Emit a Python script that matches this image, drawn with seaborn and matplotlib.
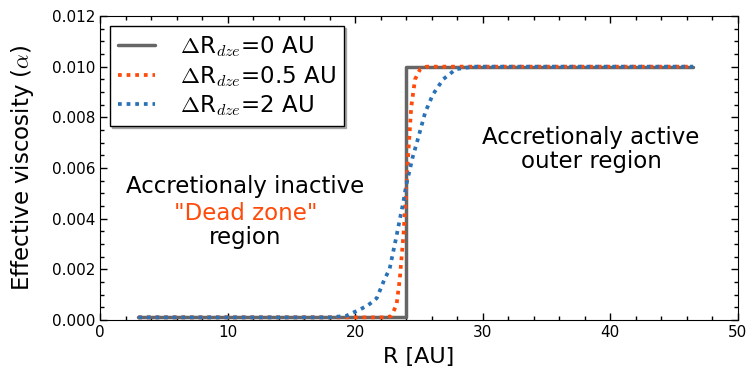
import numpy as np
import pandas as pd
import seaborn as sns
import matplotlib.pyplot as plt
from matplotlib.ticker import MultipleLocator

# values
r_step = [3.0, 24.0, 24.0, 46.5]
a_step = [0.0001, 0.0001, 0.0100, 0.0100]

r_half = [3.0, 22.5, 22.85, 23.25, 23.5, 23.8, 24.0, 24.15, 24.4, 24.7, 25.1, 25.6, 46.5]
a_half = [0.0001, 0.0001, 0.00016, 0.0006, 0.0016, 0.0034, 0.0051, 0.0064, 0.0084,
          0.0095, 0.0099, 0.0100, 0.0100]

r_two = [3.0, 18.0, 19.3, 20.2, 21.0, 21.7, 22.3, 22.7, 23.2, 23.8, 24.0, 24.5, 24.9,
         25.5, 26.1, 26.9, 27.9, 29.3, 46.5]
a_two = [0.0001, 0.0001, 0.00016, 0.00037, 0.00057, 0.00086, 0.0016, 0.0020, 0.0032,
         0.0047, 0.0053, 0.0064, 0.0071, 0.0082, 0.0089, 0.0095, 0.0099, 0.0100, 0.0100]

labels = [r"$\Delta$R$_{dze}$=0 AU", r"$\Delta$R$_{dze}$=0.5 AU", r"$\Delta$R$_{dze}$=2 AU"]
colors = ["#666666", "#ff4a0a", "#2a72b8"]

sns.set_style("ticks")
plt.rcParams["font.family"] = ["DejaVu Sans"]
plt.rcParams["mathtext.fontset"] = "cm"
plt.rcParams["xtick.direction"] = "in"
plt.rcParams["ytick.direction"] = "in"
plt.rcParams["text.color"] = "black"
plt.rcParams["axes.labelcolor"] = "black"
plt.rcParams["xtick.color"] = "black"
plt.rcParams["ytick.color"] = "black"

fig, ax = plt.subplots(figsize=(7.52, 3.72), dpi=100)

df0 = pd.DataFrame({"R": r_step, "alpha": a_step})
df1 = pd.DataFrame({"R": r_half, "alpha": a_half})
df2 = pd.DataFrame({"R": r_two, "alpha": a_two})

sns.lineplot(data=df0, x="R", y="alpha", color=colors[0], lw=2.5, ax=ax,
             label=labels[0], estimator=None, sort=False)
sns.lineplot(data=df1, x="R", y="alpha", color=colors[1], lw=2.7, ls=(0, (1, 1.3)), ax=ax,
             label=labels[1], estimator=None, sort=False)
sns.lineplot(data=df2, x="R", y="alpha", color=colors[2], lw=2.7, ls=(0, (1, 1.3)), ax=ax,
             label=labels[2], estimator=None, sort=False)

ax.set_xlim(0, 50)
ax.set_ylim(0, 0.012)
ax.xaxis.set_major_locator(MultipleLocator(10))
ax.xaxis.set_minor_locator(MultipleLocator(2))
ax.yaxis.set_major_locator(MultipleLocator(0.002))
ax.yaxis.set_minor_locator(MultipleLocator(0.0005))
ax.yaxis.set_major_formatter(plt.FormatStrFormatter("%.3f"))
ax.tick_params(which="both", top=True, right=True, labelsize=11, width=1)
ax.tick_params(which="major", length=5)
ax.tick_params(which="minor", length=3)
for s in ax.spines.values():
    s.set_color("black")

ax.set_xlabel("R [AU]", fontsize=16, labelpad=5)
ax.set_ylabel(r"Effective viscosity ($\alpha$)", fontsize=16.5, labelpad=11)

ax.text(11.4, 0.00525, "Accretionaly inactive", ha="center", va="center", fontsize=16.5)
ax.text(11.4, 0.00422, '"Dead zone"', ha="center", va="center", fontsize=16.5, color=colors[1])
ax.text(11.4, 0.00324, "region", ha="center", va="center", fontsize=16.5)
ax.text(38.5, 0.00722, "Accretionaly active", ha="center", va="center", fontsize=16.5)
ax.text(38.5, 0.00624, "outer region", ha="center", va="center", fontsize=16.5)

leg = ax.legend(loc="upper left", fontsize=16.5, frameon=True, fancybox=False,
                shadow={"ox": 1.5, "oy": -1.5, "color": "#999999", "alpha": 0.8},
                handlelength=1.6, handletextpad=1.1, borderpad=0.35, labelspacing=0.2,
                borderaxespad=0.45)
leg.get_frame().set_edgecolor("black")
leg.get_frame().set_alpha(1)

fig.subplots_adjust(left=0.133, right=0.981, top=0.957, bottom=0.14)
fig.savefig("out.png", dpi=100)
